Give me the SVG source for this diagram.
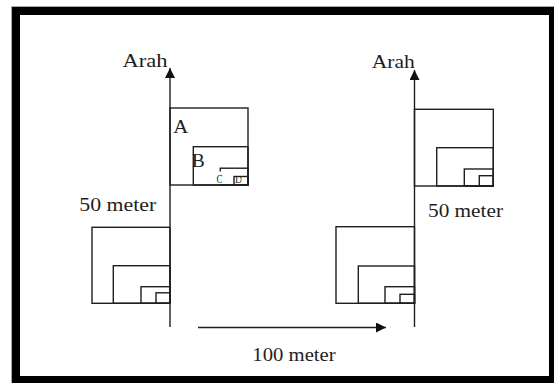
<svg xmlns="http://www.w3.org/2000/svg" width="554" height="383" viewBox="0 0 554 383">
<defs>
<style>
.ln{fill:none;stroke:#1e1e1e;stroke-width:1.4}
.t{font-family:"Liberation Serif","Times New Roman",serif;fill:#1e1e1e;font-size:18px}
</style>
<marker id="ah" viewBox="0 0 10 10" refX="10" refY="5" markerWidth="11" markerHeight="10" markerUnits="userSpaceOnUse" orient="auto">
<path d="M0,0 L10,5 L0,10 z" fill="#111"/>
</marker>
<clipPath id="dclip"><rect x="233" y="170" width="8.5" height="16"/></clipPath>
</defs>
<g id="frame">
<rect x="11.5" y="6.5" width="550" height="384" fill="#000" stroke="#aaa" stroke-width="1"/>
<rect x="20" y="15" width="529" height="361" fill="#fff"/>
</g>
<g id="connectors">
<line class="ln" x1="170" y1="327" x2="170" y2="68" marker-end="url(#ah)"/>
<line class="ln" x1="414.5" y1="327" x2="414.5" y2="70" marker-end="url(#ah)"/>
<line class="ln" x1="198" y1="327.5" x2="386" y2="327.5" marker-end="url(#ah)"/>
</g>
<g id="left-top-squares">
<rect class="ln" x="170" y="108" width="78" height="77"/>
<rect class="ln" x="193.3" y="146.7" width="54.7" height="38.3"/>
<rect class="ln" x="220.3" y="168.2" width="27.7" height="16.8"/>
<rect class="ln" x="234" y="176.5" width="14" height="8.5"/>
<rect x="216" y="171.5" width="7" height="12.5" fill="#fff"/>
<text class="t" x="173.3" y="133.3" textLength="15" lengthAdjust="spacingAndGlyphs">A</text>
<text class="t" x="191.7" y="167" textLength="13" lengthAdjust="spacingAndGlyphs">B</text>
<text class="t" x="216.5" y="182.6" style="font-size:13.5px" textLength="6" lengthAdjust="spacingAndGlyphs">C</text>
<text class="t" x="235" y="183.3" style="font-size:10px" clip-path="url(#dclip)">D</text>
</g>
<g id="left-bottom-squares">
<rect class="ln" x="92" y="227.3" width="78" height="76"/>
<rect class="ln" x="113.3" y="265.7" width="56.7" height="37.6"/>
<rect class="ln" x="141" y="286.7" width="29" height="16.6"/>
<rect class="ln" x="156" y="292.8" width="14" height="10.5"/>
</g>
<g id="right-top-squares">
<rect class="ln" x="414.5" y="109.3" width="78.8" height="76.7"/>
<rect class="ln" x="436.7" y="147.7" width="56.6" height="38.3"/>
<rect class="ln" x="464.3" y="169" width="29" height="17"/>
<rect class="ln" x="479.3" y="175.7" width="14" height="10.3"/>
</g>
<g id="right-bottom-squares">
<rect class="ln" x="336" y="226.7" width="78.5" height="76.6"/>
<rect class="ln" x="358.3" y="266" width="56.2" height="37.3"/>
<rect class="ln" x="385" y="286.7" width="29.5" height="16.6"/>
<rect class="ln" x="400" y="294.3" width="14.5" height="9"/>
</g>
<g id="labels">
<text class="t" x="122.5" y="66.7" textLength="45" lengthAdjust="spacingAndGlyphs">Arah</text>
<text class="t" x="371.7" y="68" textLength="43" lengthAdjust="spacingAndGlyphs">Arah</text>
<text class="t" x="79.3" y="210.7" textLength="77" lengthAdjust="spacingAndGlyphs">50 meter</text>
<text class="t" x="428" y="216.5" textLength="75" lengthAdjust="spacingAndGlyphs">50 meter</text>
<text class="t" x="252.3" y="360.7" textLength="83.4" lengthAdjust="spacingAndGlyphs">100 meter</text>
</g>
</svg>
